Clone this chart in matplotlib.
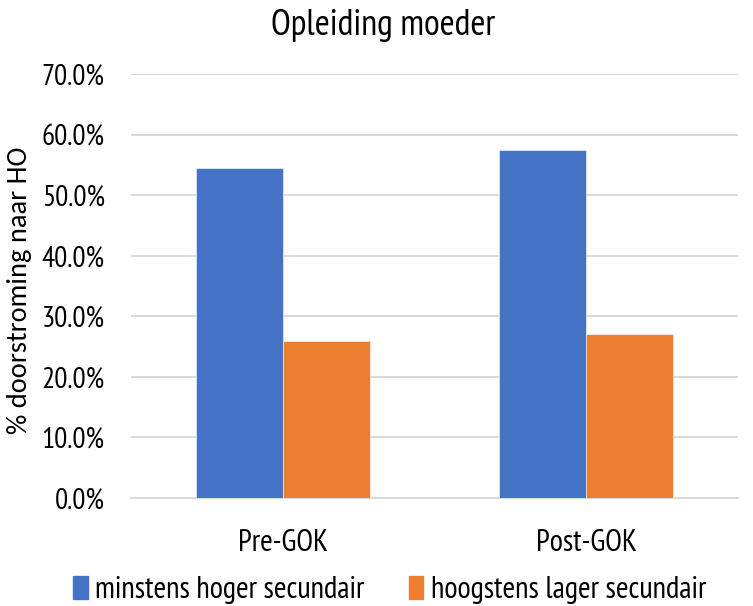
import matplotlib
matplotlib.use("Agg")
import matplotlib.pyplot as plt
from matplotlib import font_manager
from matplotlib.patches import Patch
import numpy as np

categories = ["Pre-GOK", "Post-GOK"]
series_names = ["minstens hoger secundair", "hoogstens lager secundair"]
hoger = [54.5, 57.4]
lager = [25.9, 27.1]
yticks = [0, 10, 20, 30, 40, 50, 60, 70]
title = "Opleiding moeder"
ylabel = "% doorstroming naar HO"

names = {f.name for f in font_manager.fontManager.ttflist}
candidates = ["PT Sans Narrow", "Fira Sans Condensed", "Roboto Condensed",
              "Archivo Narrow", "Liberation Sans Narrow", "Open Sans"]
fam = next((c for c in candidates if c in names), "DejaVu Sans")
plt.rcParams["font.family"] = [fam, "DejaVu Sans"]
wide_candidates = ["Carlito", "PT Sans", "Open Sans", "DejaVu Sans"]
wide = next((c for c in wide_candidates if c in names), "DejaVu Sans")

blue = "#4472C4"
orange = "#ED7D31"

fig = plt.figure(figsize=(7.53, 6.06), dpi=100)
ax = fig.add_axes([131/753, 1-498/606, (738-131)/753, (498-74)/606])

x = np.arange(len(categories))
w = 0.287
ax.bar(x - w/2, hoger, w, color=blue, edgecolor="white", linewidth=0.4, zorder=3)
ax.bar(x + w/2, lager, w, color=orange, edgecolor="white", linewidth=0.4, zorder=3)

ax.set_xlim(-0.5, 1.5)
ax.set_ylim(0, 70)
ax.set_yticks(yticks)
ax.set_yticklabels([f"{v:.1f}%" for v in yticks])
ax.set_xticks(x)
ax.set_xticklabels(categories)
ax.tick_params(axis="y", length=0, pad=19, labelsize=21)
ax.tick_params(axis="x", length=0, pad=22, labelsize=22)
ax.grid(axis="y", color="#D9D9D9", linewidth=1.4, zorder=0)
for s in ["top", "right", "left"]:
    ax.spines[s].set_visible(False)
ax.spines["bottom"].set_color("#D9D9D9")
ax.spines["bottom"].set_linewidth(1.4)

fig.text(383/753, 1-25/606, title, ha="center", va="center", fontsize=26)
fig.text(20/753, 1-290/606, ylabel, ha="center", va="center", rotation=90,
         fontsize=20.5, family=[wide, "DejaVu Sans"])

handles = [Patch(color=blue), Patch(color=orange)]
fig.legend(handles, series_names, loc="center", bbox_to_anchor=(390/753, 1-590/606),
           ncol=2, frameon=False, fontsize=22, handlelength=0.46, handleheight=0.75,
           handletextpad=0.26, columnspacing=1.45, borderaxespad=0, borderpad=0)

fig.savefig("out.png", dpi=100)
